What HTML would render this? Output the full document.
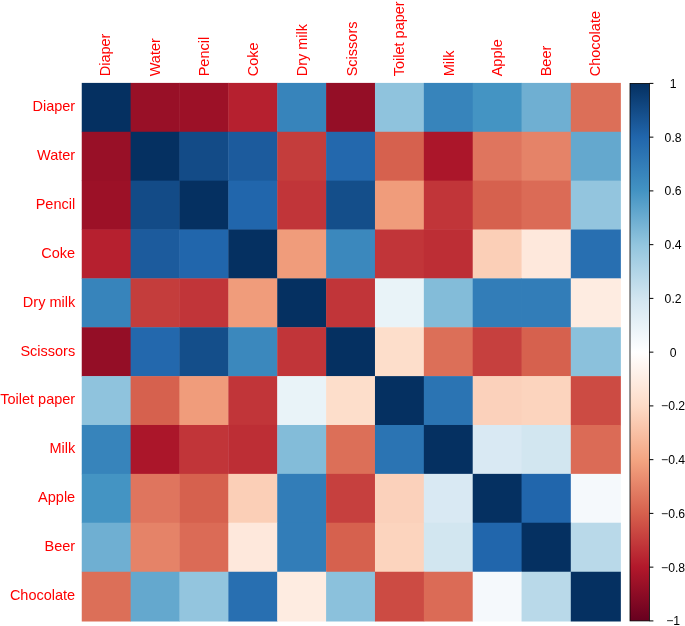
<!DOCTYPE html>
<html><head><meta charset="utf-8"><title>Correlation plot</title>
<style>html,body{margin:0;padding:0;background:#fff}svg{display:block;will-change:transform;opacity:.999}text{font-family:"Liberation Sans",Arial,Helvetica,sans-serif}</style></head><body>
<svg width="685" height="626" viewBox="0 0 685 626">
<rect width="685" height="626" fill="#fff"/>
<g>
<rect x="81.75" y="82.90" width="49.27" height="49.27" fill="#053061"/>
<rect x="130.62" y="82.90" width="49.27" height="49.27" fill="#981027"/>
<rect x="179.49" y="82.90" width="49.27" height="49.27" fill="#9C1127"/>
<rect x="228.36" y="82.90" width="49.27" height="49.27" fill="#B6202F"/>
<rect x="277.23" y="82.90" width="49.27" height="49.27" fill="#3784BB"/>
<rect x="326.10" y="82.90" width="49.27" height="49.27" fill="#940E26"/>
<rect x="374.97" y="82.90" width="49.27" height="49.27" fill="#8FC3DD"/>
<rect x="423.84" y="82.90" width="49.27" height="49.27" fill="#3784BB"/>
<rect x="472.71" y="82.90" width="49.27" height="49.27" fill="#4494C3"/>
<rect x="521.58" y="82.90" width="49.62" height="49.27" fill="#6FAFD2"/>
<rect x="570.80" y="82.90" width="50.05" height="49.27" fill="#DC6F58"/>
<rect x="81.75" y="131.77" width="49.27" height="49.27" fill="#981027"/>
<rect x="130.62" y="131.77" width="49.27" height="49.27" fill="#053061"/>
<rect x="179.49" y="131.77" width="49.27" height="49.27" fill="#134B87"/>
<rect x="228.36" y="131.77" width="49.27" height="49.27" fill="#1C5B9D"/>
<rect x="277.23" y="131.77" width="49.27" height="49.27" fill="#C43D3C"/>
<rect x="326.10" y="131.77" width="49.27" height="49.27" fill="#2368AD"/>
<rect x="374.97" y="131.77" width="49.27" height="49.27" fill="#D6614E"/>
<rect x="423.84" y="131.77" width="49.27" height="49.27" fill="#AB162A"/>
<rect x="472.71" y="131.77" width="49.27" height="49.27" fill="#DF755E"/>
<rect x="521.58" y="131.77" width="49.62" height="49.27" fill="#E58368"/>
<rect x="570.80" y="131.77" width="50.05" height="49.27" fill="#64A8CE"/>
<rect x="81.75" y="180.64" width="49.27" height="49.27" fill="#9C1127"/>
<rect x="130.62" y="180.64" width="49.27" height="49.27" fill="#134B87"/>
<rect x="179.49" y="180.64" width="49.27" height="49.27" fill="#053061"/>
<rect x="228.36" y="180.64" width="49.27" height="49.27" fill="#2166AC"/>
<rect x="277.23" y="180.64" width="49.27" height="49.27" fill="#C13539"/>
<rect x="326.10" y="180.64" width="49.27" height="49.27" fill="#144E8A"/>
<rect x="374.97" y="180.64" width="49.27" height="49.27" fill="#F09C7B"/>
<rect x="423.84" y="180.64" width="49.27" height="49.27" fill="#C13539"/>
<rect x="472.71" y="180.64" width="49.27" height="49.27" fill="#D6614E"/>
<rect x="521.58" y="180.64" width="49.62" height="49.27" fill="#DB6B56"/>
<rect x="570.80" y="180.64" width="50.05" height="49.27" fill="#93C5DE"/>
<rect x="81.75" y="229.51" width="49.27" height="49.27" fill="#B6202F"/>
<rect x="130.62" y="229.51" width="49.27" height="49.27" fill="#1C5B9D"/>
<rect x="179.49" y="229.51" width="49.27" height="49.27" fill="#2166AC"/>
<rect x="228.36" y="229.51" width="49.27" height="49.27" fill="#053061"/>
<rect x="277.23" y="229.51" width="49.27" height="49.27" fill="#F09C7B"/>
<rect x="326.10" y="229.51" width="49.27" height="49.27" fill="#3B88BD"/>
<rect x="374.97" y="229.51" width="49.27" height="49.27" fill="#C13539"/>
<rect x="423.84" y="229.51" width="49.27" height="49.27" fill="#BD2E35"/>
<rect x="472.71" y="229.51" width="49.27" height="49.27" fill="#FBCFB7"/>
<rect x="521.58" y="229.51" width="49.62" height="49.27" fill="#FEE8DC"/>
<rect x="570.80" y="229.51" width="50.05" height="49.27" fill="#286FB1"/>
<rect x="81.75" y="278.38" width="49.27" height="49.27" fill="#3784BB"/>
<rect x="130.62" y="278.38" width="49.27" height="49.27" fill="#C43D3C"/>
<rect x="179.49" y="278.38" width="49.27" height="49.27" fill="#C13539"/>
<rect x="228.36" y="278.38" width="49.27" height="49.27" fill="#F09C7B"/>
<rect x="277.23" y="278.38" width="49.27" height="49.27" fill="#053061"/>
<rect x="326.10" y="278.38" width="49.27" height="49.27" fill="#C13539"/>
<rect x="374.97" y="278.38" width="49.27" height="49.27" fill="#E9F3F8"/>
<rect x="423.84" y="278.38" width="49.27" height="49.27" fill="#83BCD9"/>
<rect x="472.71" y="278.38" width="49.27" height="49.27" fill="#327DB8"/>
<rect x="521.58" y="278.38" width="49.62" height="49.27" fill="#327DB8"/>
<rect x="570.80" y="278.38" width="50.05" height="49.27" fill="#FEECE1"/>
<rect x="81.75" y="327.25" width="49.27" height="49.27" fill="#940E26"/>
<rect x="130.62" y="327.25" width="49.27" height="49.27" fill="#2368AD"/>
<rect x="179.49" y="327.25" width="49.27" height="49.27" fill="#144E8A"/>
<rect x="228.36" y="327.25" width="49.27" height="49.27" fill="#3B88BD"/>
<rect x="277.23" y="327.25" width="49.27" height="49.27" fill="#C13539"/>
<rect x="326.10" y="327.25" width="49.27" height="49.27" fill="#053061"/>
<rect x="374.97" y="327.25" width="49.27" height="49.27" fill="#FDDECB"/>
<rect x="423.84" y="327.25" width="49.27" height="49.27" fill="#DC6F58"/>
<rect x="472.71" y="327.25" width="49.27" height="49.27" fill="#C6403E"/>
<rect x="521.58" y="327.25" width="49.62" height="49.27" fill="#D6614E"/>
<rect x="570.80" y="327.25" width="50.05" height="49.27" fill="#8BC1DC"/>
<rect x="81.75" y="376.12" width="49.27" height="49.27" fill="#8FC3DD"/>
<rect x="130.62" y="376.12" width="49.27" height="49.27" fill="#D6614E"/>
<rect x="179.49" y="376.12" width="49.27" height="49.27" fill="#F09C7B"/>
<rect x="228.36" y="376.12" width="49.27" height="49.27" fill="#C13539"/>
<rect x="277.23" y="376.12" width="49.27" height="49.27" fill="#E9F3F8"/>
<rect x="326.10" y="376.12" width="49.27" height="49.27" fill="#FDDECB"/>
<rect x="374.97" y="376.12" width="49.27" height="49.27" fill="#053061"/>
<rect x="423.84" y="376.12" width="49.27" height="49.27" fill="#2B74B3"/>
<rect x="472.71" y="376.12" width="49.27" height="49.27" fill="#FBD1BB"/>
<rect x="521.58" y="376.12" width="49.62" height="49.27" fill="#FCD4BE"/>
<rect x="570.80" y="376.12" width="50.05" height="49.27" fill="#CC4B43"/>
<rect x="81.75" y="424.99" width="49.27" height="49.27" fill="#3784BB"/>
<rect x="130.62" y="424.99" width="49.27" height="49.27" fill="#AB162A"/>
<rect x="179.49" y="424.99" width="49.27" height="49.27" fill="#C13539"/>
<rect x="228.36" y="424.99" width="49.27" height="49.27" fill="#BD2E35"/>
<rect x="277.23" y="424.99" width="49.27" height="49.27" fill="#83BCD9"/>
<rect x="326.10" y="424.99" width="49.27" height="49.27" fill="#DC6F58"/>
<rect x="374.97" y="424.99" width="49.27" height="49.27" fill="#2B74B3"/>
<rect x="423.84" y="424.99" width="49.27" height="49.27" fill="#053061"/>
<rect x="472.71" y="424.99" width="49.27" height="49.27" fill="#D9E9F3"/>
<rect x="521.58" y="424.99" width="49.62" height="49.27" fill="#D2E6F0"/>
<rect x="570.80" y="424.99" width="50.05" height="49.27" fill="#DB6B56"/>
<rect x="81.75" y="473.86" width="49.27" height="49.27" fill="#4494C3"/>
<rect x="130.62" y="473.86" width="49.27" height="49.27" fill="#DF755E"/>
<rect x="179.49" y="473.86" width="49.27" height="49.27" fill="#D6614E"/>
<rect x="228.36" y="473.86" width="49.27" height="49.27" fill="#FBCFB7"/>
<rect x="277.23" y="473.86" width="49.27" height="49.27" fill="#327DB8"/>
<rect x="326.10" y="473.86" width="49.27" height="49.27" fill="#C6403E"/>
<rect x="374.97" y="473.86" width="49.27" height="49.27" fill="#FBD1BB"/>
<rect x="423.84" y="473.86" width="49.27" height="49.27" fill="#D9E9F3"/>
<rect x="472.71" y="473.86" width="49.27" height="49.27" fill="#053061"/>
<rect x="521.58" y="473.86" width="49.62" height="49.27" fill="#2166AC"/>
<rect x="570.80" y="473.86" width="50.05" height="49.27" fill="#F5F9FC"/>
<rect x="81.75" y="522.73" width="49.27" height="49.42" fill="#6FAFD2"/>
<rect x="130.62" y="522.73" width="49.27" height="49.42" fill="#E58368"/>
<rect x="179.49" y="522.73" width="49.27" height="49.42" fill="#DB6B56"/>
<rect x="228.36" y="522.73" width="49.27" height="49.42" fill="#FEE8DC"/>
<rect x="277.23" y="522.73" width="49.27" height="49.42" fill="#327DB8"/>
<rect x="326.10" y="522.73" width="49.27" height="49.42" fill="#D6614E"/>
<rect x="374.97" y="522.73" width="49.27" height="49.42" fill="#FCD4BE"/>
<rect x="423.84" y="522.73" width="49.27" height="49.42" fill="#D2E6F0"/>
<rect x="472.71" y="522.73" width="49.27" height="49.42" fill="#2166AC"/>
<rect x="521.58" y="522.73" width="49.62" height="49.42" fill="#053061"/>
<rect x="570.80" y="522.73" width="50.05" height="49.42" fill="#B9D9E9"/>
<rect x="81.75" y="571.75" width="49.27" height="49.75" fill="#DC6F58"/>
<rect x="130.62" y="571.75" width="49.27" height="49.75" fill="#64A8CE"/>
<rect x="179.49" y="571.75" width="49.27" height="49.75" fill="#93C5DE"/>
<rect x="228.36" y="571.75" width="49.27" height="49.75" fill="#286FB1"/>
<rect x="277.23" y="571.75" width="49.27" height="49.75" fill="#FEECE1"/>
<rect x="326.10" y="571.75" width="49.27" height="49.75" fill="#8BC1DC"/>
<rect x="374.97" y="571.75" width="49.27" height="49.75" fill="#CC4B43"/>
<rect x="423.84" y="571.75" width="49.27" height="49.75" fill="#DB6B56"/>
<rect x="472.71" y="571.75" width="49.27" height="49.75" fill="#F5F9FC"/>
<rect x="521.58" y="571.75" width="49.62" height="49.75" fill="#B9D9E9"/>
<rect x="570.80" y="571.75" width="50.05" height="49.75" fill="#053061"/>
</g>
<g fill="#FF0000" font-size="14.5" text-anchor="end">
<text x="75.20" y="111.24">Diaper</text>
<text x="75.20" y="160.10">Water</text>
<text x="75.20" y="208.97">Pencil</text>
<text x="75.20" y="257.84">Coke</text>
<text x="75.20" y="306.71">Dry milk</text>
<text x="75.20" y="355.58">Scissors</text>
<text x="75.20" y="404.45">Toilet paper</text>
<text x="75.20" y="453.32">Milk</text>
<text x="75.20" y="502.19">Apple</text>
<text x="75.20" y="551.14">Beer</text>
<text x="75.20" y="600.12">Chocolate</text>
</g>
<g fill="#FF0000" font-size="14.5">
<text transform="translate(110.29,76.30) rotate(-90)">Diaper</text>
<text transform="translate(160.35,76.30) rotate(-90)">Water</text>
<text transform="translate(209.22,76.30) rotate(-90)">Pencil</text>
<text transform="translate(258.10,76.30) rotate(-90)">Coke</text>
<text transform="translate(306.76,76.30) rotate(-90)">Dry milk</text>
<text transform="translate(356.93,76.30) rotate(-90)">Scissors</text>
<text transform="translate(403.70,76.30) rotate(-90)">Toilet paper</text>
<text transform="translate(454.37,76.30) rotate(-90)">Milk</text>
<text transform="translate(501.84,76.30) rotate(-90)">Apple</text>
<text transform="translate(551.39,76.30) rotate(-90)">Beer</text>
<text transform="translate(600.03,76.30) rotate(-90)">Chocolate</text>
</g>
<defs><linearGradient id="cb" x1="0" y1="0" x2="0" y2="1"><stop offset="0%" stop-color="#053061"/><stop offset="10%" stop-color="#2166AC"/><stop offset="20%" stop-color="#4393C3"/><stop offset="30%" stop-color="#92C5DE"/><stop offset="40%" stop-color="#D1E5F0"/><stop offset="50%" stop-color="#FFFFFF"/><stop offset="60%" stop-color="#FDDBC7"/><stop offset="70%" stop-color="#F4A582"/><stop offset="80%" stop-color="#D6604D"/><stop offset="90%" stop-color="#B2182B"/><stop offset="100%" stop-color="#67001F"/></linearGradient></defs>
<rect x="630.00" y="83.40" width="19.40" height="537.50" fill="url(#cb)" stroke="#000" stroke-width="0.8"/>
<g stroke="#000" stroke-width="1">
<line x1="649.40" y1="83.40" x2="653.40" y2="83.40"/>
<line x1="649.40" y1="137.15" x2="653.40" y2="137.15"/>
<line x1="649.40" y1="190.90" x2="653.40" y2="190.90"/>
<line x1="649.40" y1="244.65" x2="653.40" y2="244.65"/>
<line x1="649.40" y1="298.40" x2="653.40" y2="298.40"/>
<line x1="649.40" y1="352.15" x2="653.40" y2="352.15"/>
<line x1="649.40" y1="405.90" x2="653.40" y2="405.90"/>
<line x1="649.40" y1="459.65" x2="653.40" y2="459.65"/>
<line x1="649.40" y1="513.40" x2="653.40" y2="513.40"/>
<line x1="649.40" y1="567.15" x2="653.40" y2="567.15"/>
<line x1="649.40" y1="620.90" x2="653.40" y2="620.90"/>
</g>
<g fill="#000" font-size="12.2" text-anchor="middle">
<text x="673.10" y="87.80">1</text>
<text x="673.10" y="141.55">0.8</text>
<text x="673.10" y="195.30">0.6</text>
<text x="673.10" y="249.05">0.4</text>
<text x="673.10" y="302.80">0.2</text>
<text x="673.10" y="356.55">0</text>
<text x="673.10" y="410.30">−0.2</text>
<text x="673.10" y="464.05">−0.4</text>
<text x="673.10" y="517.80">−0.6</text>
<text x="673.10" y="571.55">−0.8</text>
<text x="673.10" y="625.30">−1</text>
</g>
</svg></body></html>
